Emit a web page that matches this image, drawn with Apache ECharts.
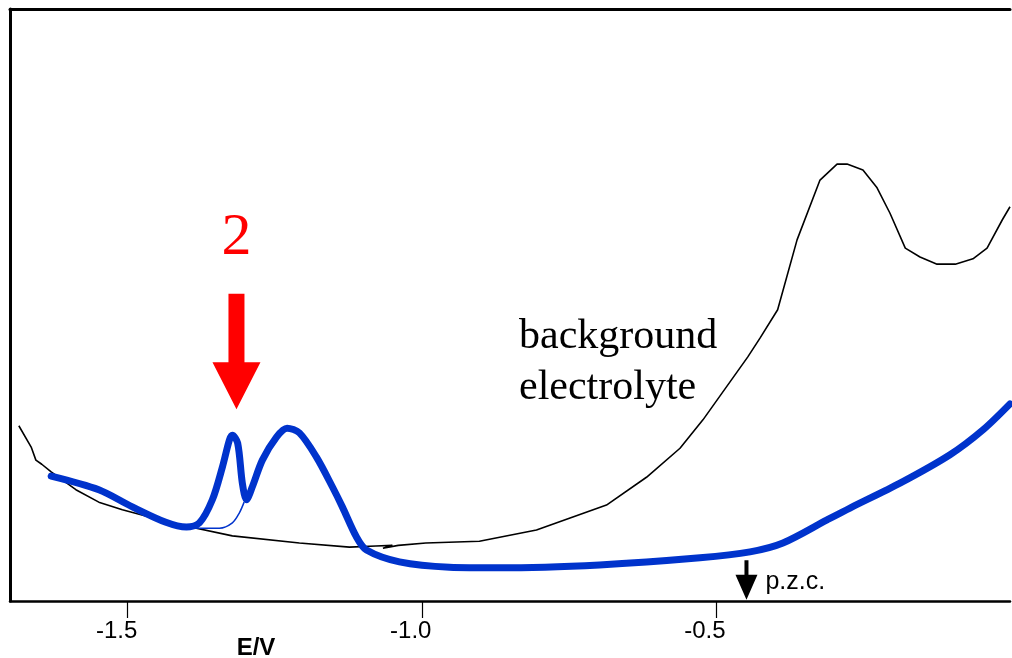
<!DOCTYPE html>
<html>
<head>
<meta charset="utf-8">
<script src="https://cdn.jsdelivr.net/npm/echarts@6/dist/echarts.min.js"></script>
<style>
  html, body { margin: 0; padding: 0; background: #fff; }
  #chart { width: 1012px; height: 658px; }
</style>
</head>
<body>
<div id="chart"></div>
<script>
  // potential axis (V) and tick positions
  const xTicks = [-1.5, -1.0, -0.5];

  // background electrolyte (thin black)
  const bgE = [-1.685, -1.664, -1.656, -1.646, -1.630, -1.588, -1.549, -1.509, -1.463, -1.407,
    -1.322, -1.208, -1.123, -1.078, -1.050, -1.066, -1.040, -0.993, -0.902, -0.805,
    -0.686, -0.618, -0.561, -0.522, -0.446, -0.425, -0.395, -0.362, -0.323, -0.294,
    -0.277, -0.250, -0.226, -0.204, -0.178, -0.153, -0.124, -0.093, -0.063, -0.039,
    -0.013, 0.0];
  const bgI = [29.6, 26.0, 23.8, 23.1, 21.8, 18.8, 16.7, 15.4, 14.2, 12.8,
    11.0, 9.8, 9.1, 9.3, 9.4, 8.9, 9.4, 9.8, 10.1, 12.0,
    16.2, 20.9, 25.8, 30.6, 41.2, 44.4, 49.2, 61.0, 71.1, 73.8,
    73.8, 72.8, 69.8, 65.5, 59.6, 58.1, 56.9, 56.9, 57.8, 59.6,
    64.4, 66.6];

  // with adsorbate (thick blue)
  const mainE = [-1.630, -1.549, -1.492, -1.435, -1.400, -1.378, -1.356, -1.339, -1.327, -1.322,
    -1.313, -1.305, -1.298, -1.288, -1.271, -1.247, -1.229, -1.208, -1.179, -1.152,
    -1.135, -1.111, -1.094, -1.038, -0.953, -0.868, -0.698, -0.527, -0.442, -0.386,
    -0.311, -0.272, -0.187, -0.102, -0.046, 0.0];
  const mainI = [21.1, 18.8, 15.9, 13.3, 12.5, 13.2, 17.1, 22.6, 27.2, 28.0,
    26.7, 19.9, 17.1, 19.3, 23.8, 27.7, 29.2, 28.4, 24.3, 19.3,
    15.9, 10.8, 8.6, 6.6, 5.7, 5.6, 6.1, 7.3, 8.3, 9.8,
    13.7, 15.7, 19.9, 24.7, 28.9, 33.3];

  // baseline under peak 2 (thin blue)
  const baseE = [-1.400, -1.378, -1.344, -1.322, -1.310, -1.302];
  const baseI = [12.5, 12.3, 12.3, 13.2, 14.9, 16.7];

  // annotation anchors (data coords)
  const peakArrow = { e: -1.315, topI: 51.9, tipI: 32.4, labelI: 61.3, label: '2' };
  const pzcArrow = { e: -0.448, topI: 6.9, tipI: 0.2, label: 'p.z.c.' };

  const zip = (a, b) => a.map((v, i) => [v, b[i]]);

  const chart = echarts.init(document.getElementById('chart'));

  const option = {
    animation: false,
    backgroundColor: '#fff',
    grid: { left: 10, top: 9, right: 2, bottom: 57 },
    xAxis: [
      {
        type: 'value',
        min: -1.7,
        max: 0,
        position: 'bottom',
        axisLine: { show: true, onZero: false, lineStyle: { color: '#000', width: 2.5 } },
        axisTick: { show: true, customValues: xTicks, length: 17, lineStyle: { color: '#000', width: 1.2 } },
        axisLabel: {
          show: true,
          customValues: xTicks,
          formatter: v => v.toFixed(1),
          fontFamily: 'Liberation Sans',
          fontSize: 24,
          lineHeight: 24,
          color: '#000',
          margin: 18,
          padding: [0, 22, 0, 0]
        },
        splitLine: { show: false }
      },
      {
        type: 'value',
        min: -1.7,
        max: 0,
        position: 'top',
        axisLine: { show: true, onZero: false, lineStyle: { color: '#000', width: 3 } },
        axisTick: { show: false },
        axisLabel: { show: false },
        splitLine: { show: false }
      }
    ],
    yAxis: {
      type: 'value',
      min: 0,
      max: 100,
      axisLine: { show: true, onZero: false, lineStyle: { color: '#000', width: 3 } },
      axisTick: { show: false },
      axisLabel: { show: false },
      splitLine: { show: false }
    },
    series: [
      {
        name: 'background electrolyte',
        type: 'line',
        data: zip(bgE, bgI),
        symbol: 'none',
        lineStyle: { color: '#000', width: 1.6 }
      },
      {
        name: 'baseline',
        type: 'line',
        data: zip(baseE, baseI),
        symbol: 'none',
        smooth: 0.3,
        lineStyle: { color: '#0033cc', width: 1.5 }
      },
      {
        name: 'adsorbate',
        type: 'line',
        data: zip(mainE, mainI),
        symbol: 'none',
        smooth: 0.3,
        lineStyle: { color: '#0033cc', width: 7, cap: 'round', join: 'round' }
      }
    ]
  };

  chart.setOption(option);

  // annotations placed from data coords
  const px = p => chart.convertToPixel({ gridIndex: 0 }, p);
  const rTop = px([peakArrow.e, peakArrow.topI]);
  const rTip = px([peakArrow.e, peakArrow.tipI]);
  const rLab = px([peakArrow.e, peakArrow.labelI]);
  const pTop = px([pzcArrow.e, pzcArrow.topI]);
  const pTip = px([pzcArrow.e, pzcArrow.tipI]);

  const arrow = (top, tip, shaftW, headW, headL) => {
    const x = tip[0], hy = tip[1] - headL;
    return [[x - shaftW / 2, top[1]], [x + shaftW / 2, top[1]], [x + shaftW / 2, hy], [x + headW / 2, hy],
      [x, tip[1]], [x - headW / 2, hy], [x - shaftW / 2, hy]];
  };

  chart.setOption({
    graphic: [
      { type: 'polygon', shape: { points: arrow(rTop, rTip, 16, 48, 47) }, style: { fill: '#ff0000' }, z: 10 },
      {
        type: 'text', x: rLab[0], y: rLab[1], z: 10,
        style: { text: peakArrow.label, fill: '#ff0000', font: '60px "Liberation Serif"', align: 'center', verticalAlign: 'middle' }
      },
      { type: 'polygon', shape: { points: arrow(pTop, pTip, 4, 22, 25) }, style: { fill: '#000' }, z: 10 },
      {
        type: 'text', x: pTip[0] + 19, y: pTip[1] - 18, z: 10,
        style: { text: pzcArrow.label, fill: '#000', font: '25px "Liberation Sans"', align: 'left', verticalAlign: 'middle' }
      },
      {
        type: 'text', x: 519, y: 362, z: 10,
        style: { text: 'background\nelectrolyte', fill: '#000', font: '42px "Liberation Serif"', lineHeight: 51, align: 'left', verticalAlign: 'middle' }
      },
      {
        type: 'text', x: 256, y: 648, z: 10,
        style: { text: 'E/V', fill: '#000', font: 'bold 24px "Liberation Sans"', align: 'center', verticalAlign: 'middle' }
      }
    ]
  });
</script>
</body>
</html>
